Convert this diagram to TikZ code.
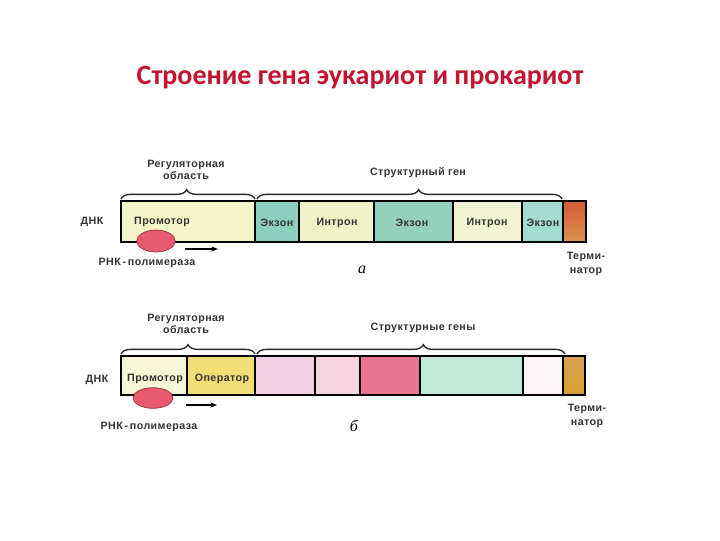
\documentclass[tikz,border=0pt]{standalone}
\usepackage{fontspec}
\usetikzlibrary{decorations.pathreplacing,arrows.meta,shapes.geometric}
\setmainfont{Liberation Sans}
\newfontfamily\titlefont{Carlito}
\newfontfamily\lblfont[LetterSpace=4]{Liberation Sans Bold}
\newfontfamily\letfont{Liberation Serif}
\definecolor{titlered}{RGB}{196,18,48}
\definecolor{promA}{HTML}{F4F6C8}
\definecolor{exonA}{HTML}{8CCFBF}
\definecolor{intrA}{HTML}{EEF2C6}
\definecolor{exonB}{HTML}{95D0BC}
\definecolor{intrB}{HTML}{F0F4D2}
\definecolor{exonC}{HTML}{A3DCCF}
\definecolor{termAt}{HTML}{D55A36}
\definecolor{termAb}{HTML}{D9934E}
\definecolor{promB}{HTML}{F8F6D8}
\definecolor{operB}{HTML}{F2DE74}
\definecolor{g1}{HTML}{F0CFE0}
\definecolor{g2}{HTML}{F6D5E0}
\definecolor{g3}{HTML}{EA7590}
\definecolor{g4}{HTML}{BFE8D8}
\definecolor{g5}{HTML}{FBF3F5}
\definecolor{termBt}{HTML}{D8A050}
\definecolor{termBb}{HTML}{D9A033}
\definecolor{polyc}{HTML}{E8586E}
\tikzset{
  seg/.style={draw=black, line width=1.1pt},
  lbl/.style={font=\lblfont\fontsize{8}{9.5}\selectfont, inner sep=0pt, text=black!80},
  brc/.style={draw=black!85, line width=1pt, decorate, decoration={brace, amplitude=7, aspect=#1}},
  poly/.style={ellipse, fill=polyc, draw=polyc!60!black, line width=0.5pt, inner sep=0pt},
  dirarrow/.style={-{Stealth[length=5pt,width=3.8pt]}, line width=1.2pt},
  letter/.style={font=\letfont\itshape\fontsize{12}{14}\selectfont, inner sep=0pt}
}
\begin{document}
\begin{tikzpicture}[x=0.75pt, y=-0.75pt]
\useasboundingbox (0,0) rectangle (720,540);
\fill[white] (0,0) rectangle (720,540);
\node[font=\titlefont\bfseries\fontsize{21}{25}\selectfont, text=titlered, inner sep=0pt] (title) at (360,78) {Строение гена эукариот и прокариот};

% ---------- (a) eukaryotic gene ----------
\path[seg, fill=promA] (121,201) rectangle (255,242);
\path[seg, fill=exonA] (255,201) rectangle (299,242);
\path[seg, fill=intrA] (299,201) rectangle (374,242);
\path[seg, fill=exonB] (374,201) rectangle (453,242);
\path[seg, fill=intrB] (453,201) rectangle (522,242);
\path[seg, fill=exonC] (522,201) rectangle (563,242);
\path[seg, top color=termAt, bottom color=termAb] (563,201) rectangle (586,242);

\node[lbl] (aprom) at (162,222) {Промотор};
\node[lbl] (aex1) at (277,223) {Экзон};
\node[lbl] (ain1) at (337,223) {Интрон};
\node[lbl] (aex2) at (412,223) {Экзон};
\node[lbl] (ain2) at (487,223) {Интрон};
\node[lbl] (aex3) at (543,223) {Экзон};
\node[lbl] (adna) at (92,222) {ДНК};

\draw[brc=0.49] (121,199) -- (255,199);
\draw[brc=0.53] (257,199) -- (562,199);
\node[lbl, align=center] (areg) at (186,170) {Регуляторная\\[-0.5pt]область};
\node[lbl] (astr) at (418,173) {Структурный ген};

\node[poly, minimum width=29pt, minimum height=16.5pt] (apol) at (156,241) {};
\coordinate (aarr1) at (185,249);
\coordinate (aarr2) at (218,249);
\draw[dirarrow] (aarr1) -- (aarr2);
\node[lbl] (apoltxt) at (147,263) {РНК\,-\,полимераза};
\node[letter] (alet) at (362,270) {а};
\node[lbl, align=center] (aterm) at (586,264) {Терми-\\[1pt]натор};

% ---------- (b) prokaryotic operon ----------
\path[seg, fill=promB] (121,356) rectangle (187,395);
\path[seg, fill=operB] (187,356) rectangle (255,395);
\path[seg, fill=g1] (255,356) rectangle (315,395);
\path[seg, fill=g2] (315,356) rectangle (360,395);
\path[seg, fill=g3] (360,356) rectangle (420,395);
\path[seg, fill=g4] (420,356) rectangle (523,395);
\path[seg, fill=g5] (523,356) rectangle (563,395);
\path[seg, top color=termBt, bottom color=termBb] (563,356) rectangle (585,395);

\node[lbl] (bprom) at (155,379) {Промотор};
\node[lbl] (boper) at (222,379) {Оператор};
\node[lbl] (bdna) at (97,380) {ДНК};

\draw[brc=0.5] (121,354) -- (255,354);
\draw[brc=0.54] (257,354) -- (565,354);
\node[lbl, align=center] (breg) at (186,324) {Регуляторная\\[-0.5pt]область};
\node[lbl] (bstr) at (423,328) {Структурные гены};

\node[poly, minimum width=30pt, minimum height=15.5pt] (bpol) at (153,398) {};
\coordinate (barr1) at (186,405);
\coordinate (barr2) at (217,405);
\draw[dirarrow] (barr1) -- (barr2);
\node[lbl] (bpoltxt) at (149,427) {РНК\,-\,полимераза};
\node[letter] (blet) at (354,426) {б};
\node[lbl, align=center] (bterm) at (587,416) {Терми-\\[1pt]натор};
\end{tikzpicture}
\end{document}
